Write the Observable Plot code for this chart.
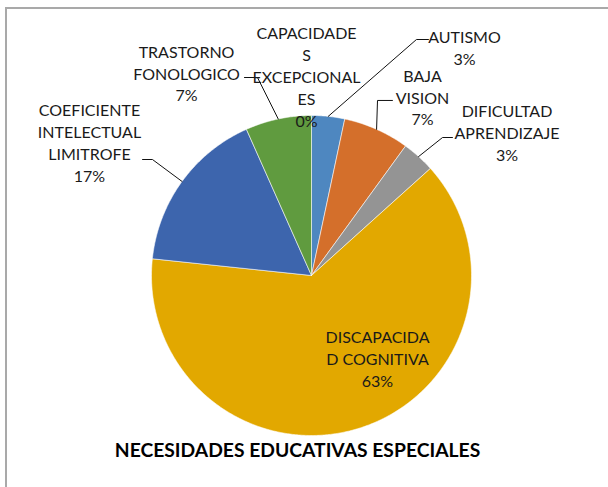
<!DOCTYPE html>
<html>
<head>
<meta charset="utf-8">
<script src="https://cdn.jsdelivr.net/npm/d3@7"></script>
<script src="https://cdn.jsdelivr.net/npm/@observablehq/plot@0.6"></script>
<style>
  html, body { margin: 0; padding: 0; background: white; overflow: hidden; }
  #wrap { position: relative; width: 608px; height: 487px; overflow: hidden; }
  #border { position: absolute; left: 5px; top: 7px; width: 800px; height: 800px;
            border-left: 2px solid #A9A9A9; border-top: 2px solid #A9A9A9; pointer-events: none; }
</style>
</head>
<body>
<div id="wrap"><div id="chart"></div><div id="border"></div></div>
<script>
// ---- data (clockwise from 12 o'clock) ----
const categories = ["AUTISMO", "BAJA VISION", "DIFICULTAD APRENDIZAJE", "DISCAPACIDAD COGNITIVA",
                    "COEFICIENTE INTELECTUAL LIMITROFE", "TRASTORNO FONOLOGICO", "CAPACIDADES EXCEPCIONALES"];
const counts = [1, 2, 1, 19, 5, 2, 0];
// label text as wrapped in the picture
const labelLines = ["AUTISMO", "BAJA\nVISION", "DIFICULTAD\nAPRENDIZAJE", "DISCAPACIDA\nD COGNITIVA",
                    "COEFICIENTE\nINTELECTUAL\nLIMITROFE", "TRASTORNO\nFONOLOGICO", "CAPACIDADE\nS\nEXCEPCIONAL\nES"];
const colors = ["#4E87C0", "#D46F2B", "#949494", "#E2A800", "#3D65AD", "#609B3F", "#2B5797"];
const title = "NECESIDADES EDUCATIVAS ESPECIALES";

// ---- layout (unit-radius coordinates, y up) ----
const labelPos = [[0.956, 1.431], [0.694, 1.119], [1.222, 0.9], [0.4125, -0.5125],
                  [-1.3875, 0.8375], [-0.781, 1.269], [-0.031, 1.25]];
// leader elbows & ends (null = no leader)
const leaders = [[[0.656, 1.475], [0.731, 1.475]],
                 [[0.4125, 1.094], [0.506, 1.094]],
                 [[0.819, 0.8625], [0.881, 0.8625]],
                 null,
                 [[-0.994, 0.725], [-1.056, 0.725]],
                 [[-0.3375, 1.2375], [-0.419, 1.2375]],
                 null];

const total = d3.sum(counts);
const fmt = d3.format(".0%");
let acc = 0;
const slices = counts.map((c, i) => {
  const a0 = acc / total * 2 * Math.PI;
  acc += c;
  const a1 = acc / total * 2 * Math.PI;
  return {i, a0, a1, mid: (a0 + a1) / 2};
});

function poly(s) {
  const pts = [{x: 0, y: 0}];
  const n = Math.max(2, Math.ceil((s.a1 - s.a0) / (Math.PI / 360)));
  for (let k = 0; k <= n; k++) {
    const a = s.a0 + (s.a1 - s.a0) * k / n;
    pts.push({x: Math.sin(a), y: Math.cos(a)});
  }
  pts.push({x: 0, y: 0});
  return pts;
}

const sliceMarks = slices.filter(s => s.a1 > s.a0).map(s =>
  Plot.line(poly(s), {x: "x", y: "y", fill: colors[s.i], stroke: "white",
                      strokeWidth: 0.8, strokeOpacity: 0.7, curve: "linear"}));

const leaderPts = [];
slices.forEach(s => {
  const L = leaders[s.i];
  if (!L) return;
  leaderPts.push({k: s.i, x: Math.sin(s.mid), y: Math.cos(s.mid)});
  L.forEach(p => leaderPts.push({k: s.i, x: p[0], y: p[1]}));
});

const labelData = slices.map(s => ({
  x: labelPos[s.i][0], y: labelPos[s.i][1],
  text: labelLines[s.i] + "\n" + fmt(counts[s.i] / total)
}));

const R = 160, cx = 311, cy = 275, W = 608, H = 487;
const plot = Plot.plot({
  width: W, height: H, margin: 0,
  x: {domain: [-cx / R, (W - cx) / R], axis: null},
  y: {domain: [-(H - cy) / R, cy / R], axis: null},
  style: {background: "transparent"},
  marks: [
    ...sliceMarks,
    Plot.line(leaderPts, {x: "x", y: "y", z: "k", stroke: "#111", strokeWidth: 1, curve: "linear"}),
    Plot.text(labelData, {x: "x", y: "y", text: "text", fontSize: 16, lineHeight: 1.375,
                          fontFamily: "Lato", fill: "#1a1a1a"}),
    Plot.text([title], {x: -0.0875, y: -1.09375, text: d => d, fontSize: 19.3, fontWeight: "bold",
                        fontFamily: "Lato", fill: "#000"})
  ]
});
document.getElementById("chart").appendChild(plot);
</script>
</body>
</html>
